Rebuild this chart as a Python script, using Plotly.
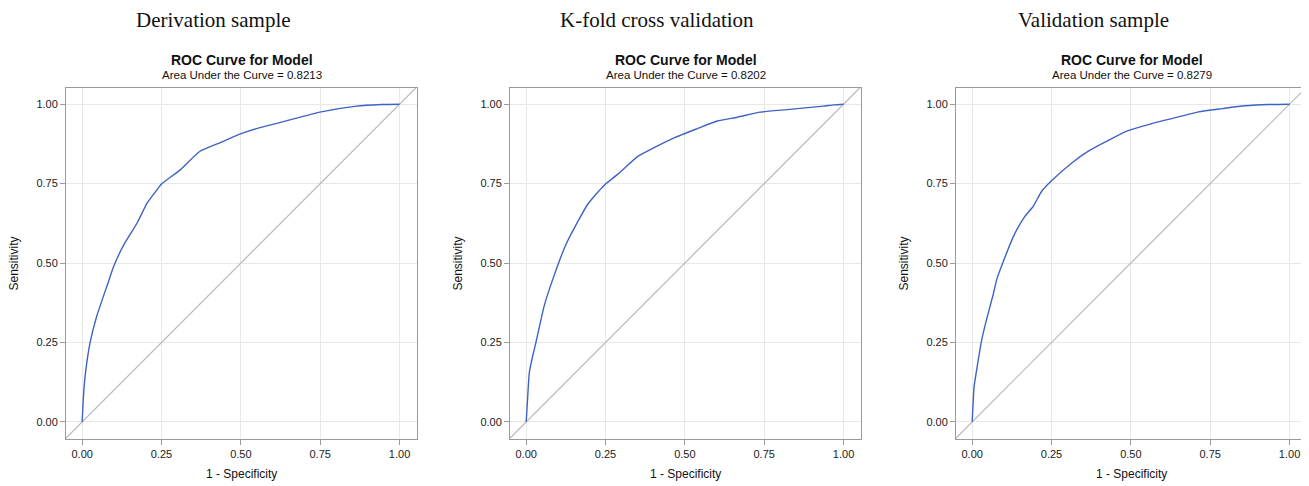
import plotly.graph_objects as go

# page offset of the plot div (default body margin) -> the figure is sized to fit the window
OFF = 8
W, H = 1309 - OFF, 486 - OFF

panel_titles = ["Derivation sample", "K-fold cross validation", "Validation sample"]
auc_values = ["0.8213", "0.8202", "0.8279"]

# ROC curves: 1 - specificity (x) and sensitivity (y)
x_deriv = [0, 0.004, 0.010, 0.025, 0.046, 0.083, 0.099, 0.131, 0.173, 0.205, 0.236, 0.25,
           0.31, 0.37, 0.437, 0.503, 0.563, 0.637, 0.753, 0.859, 0.943, 1.0]
y_deriv = [0, 0.08, 0.15, 0.25, 0.333, 0.442, 0.489, 0.557, 0.626, 0.689, 0.731, 0.749,
           0.794, 0.851, 0.880, 0.908, 0.927, 0.946, 0.976, 0.993, 0.999, 1.0]

x_kfold = [0, 0.005, 0.010, 0.021, 0.031, 0.057, 0.087, 0.126, 0.194, 0.246, 0.288, 0.351, 0.403,
           0.466, 0.539, 0.602, 0.665, 0.738, 0.822, 0.937, 0.97, 1.0]
y_kfold = [0, 0.083, 0.156, 0.209, 0.251, 0.366, 0.458, 0.560, 0.685, 0.745, 0.779, 0.835, 0.863,
           0.894, 0.923, 0.947, 0.959, 0.975, 0.983, 0.994, 0.998, 1.0]

x_valid = [0, 0.006, 0.014, 0.030, 0.045, 0.066, 0.077, 0.098, 0.135, 0.166, 0.192, 0.219, 0.250,
           0.314, 0.366, 0.429, 0.487, 0.566, 0.650, 0.713, 0.787, 0.860, 0.934, 1.0]
y_valid = [0, 0.110, 0.163, 0.258, 0.321, 0.400, 0.447, 0.505, 0.594, 0.647, 0.678, 0.726, 0.759,
           0.815, 0.852, 0.886, 0.915, 0.939, 0.960, 0.976, 0.986, 0.995, 0.999, 1.0]

diag = [-0.2, 1.2]  # chance line y = x, clipped to the plot area

tick_vals = [0, 0.25, 0.5, 0.75, 1.0]
tick_text = ["0.00", "0.25", "0.50", "0.75", "1.00"]

curves = [(x_deriv, y_deriv), (x_kfold, y_kfold), (x_valid, y_valid)]

# window-pixel layout of the plot boxes (as seen in the reference)
box_left = [66, 510, 956]
box_w = 351
box_top, box_bottom = 88, 439
big_title_cx = [213, 657, 1093]


def px(p):
    return (p - OFF) / W


def py(p):
    return 1 - (p - OFF) / H


fig = go.Figure()
annotations = []

for i, (xs, ys) in enumerate(curves):
    n = "" if i == 0 else str(i + 1)
    xa, ya = "x" + n, "y" + n
    fig.add_trace(go.Scatter(x=diag, y=diag, mode="lines", xaxis=xa, yaxis=ya,
                             line=dict(color="#b8b8b8", width=1.2), hoverinfo="skip", showlegend=False))
    fig.add_trace(go.Scatter(x=xs, y=ys, mode="lines", xaxis=xa, yaxis=ya,
                             line=dict(color="#3f63c4", width=1.4, shape="spline", smoothing=0.5),
                             showlegend=False))
    l = box_left[i]
    r = l + box_w
    axis_common = dict(
        tickvals=tick_vals, ticktext=tick_text, ticks="outside", ticklen=5, tickcolor="#9a9a9a",
        tickfont=dict(family="Arial", size=11, color="#1a1a1a"),
        showgrid=True, gridcolor="#e8e8e8", gridwidth=1,
        showline=True, linecolor="#9a9a9a", linewidth=1, mirror=True, zeroline=False,
    )
    fig.update_layout(**{
        "xaxis" + n: dict(domain=[px(l), min(px(r), 1.0)], range=[-0.051, 1.055], anchor=ya, **axis_common),
        "yaxis" + n: dict(domain=[py(box_bottom), py(box_top)], range=[-0.054, 1.051],
                          anchor=xa, **axis_common),
    })
    cx = (l + r) / 2
    annotations += [
        dict(text=panel_titles[i], x=px(big_title_cx[i]), y=py(20),
             font=dict(family="Times New Roman", size=21, color="#111"), borderpad=0),
        dict(text="<b>ROC Curve for Model</b>", x=px(cx), y=py(60),
             font=dict(family="Arial", size=14, color="#111")),
        dict(text="Area Under the Curve = " + auc_values[i], x=px(cx), y=py(75),
             font=dict(family="Arial", size=11.5, color="#111")),
        dict(text="Sensitivity", x=px(l - 52), y=py(263.5), textangle=-90,
             font=dict(family="Arial", size=12, color="#111")),
        dict(text="1 - Specificity", x=px(cx), y=py(474),
             font=dict(family="Arial", size=12, color="#111")),
    ]

for a in annotations:
    a.update(xref="paper", yref="paper", showarrow=False, xanchor="center", yanchor="middle")

fig.update_layout(
    width=W, height=H, margin=dict(l=0, r=0, t=0, b=0),
    paper_bgcolor="white", plot_bgcolor="white",
    annotations=annotations, showlegend=False,
)

fig.write_html("out.html")
